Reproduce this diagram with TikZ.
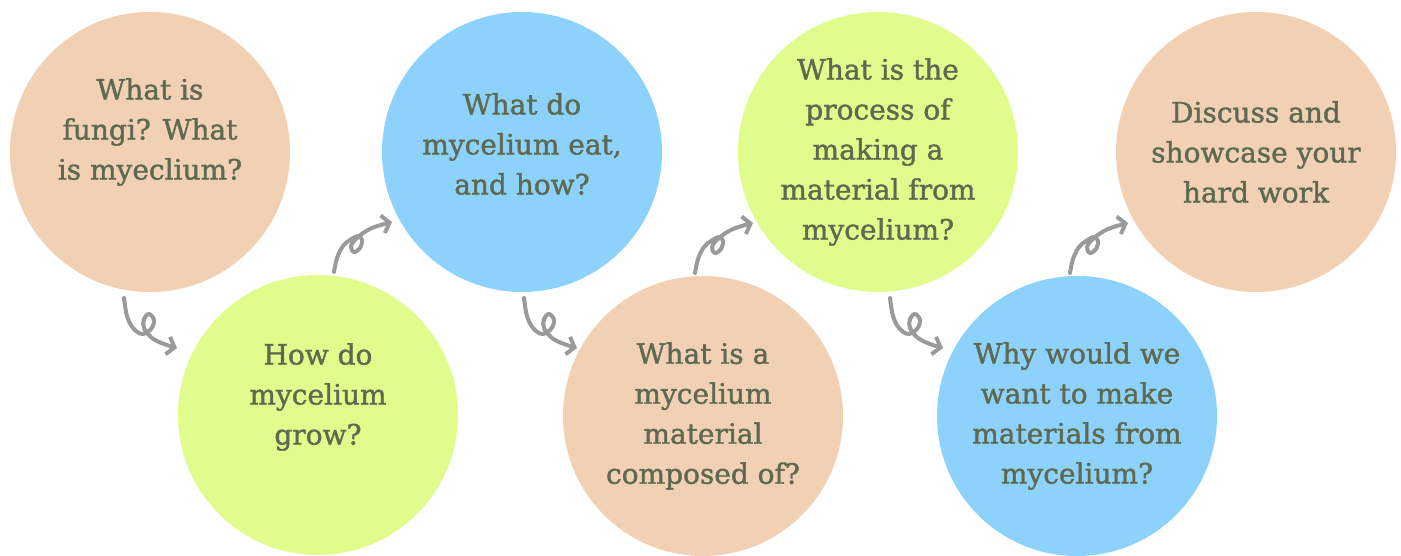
\documentclass[tikz,border=0pt]{standalone}
\usepackage{fontspec}
\setmainfont{DejaVu Serif}[FakeBold=1.4]
\usetikzlibrary{arrows.meta,positioning,calc}
\definecolor{peach}{HTML}{F2D0B4}
\definecolor{lime}{HTML}{E0FC8C}
\definecolor{sky}{HTML}{8DD2FC}
\definecolor{qgray}{HTML}{5E6A50}
\definecolor{arrowgray}{HTML}{9A9A9A}
\tikzset{
  bubble/.style={circle, minimum size=280pt, inner sep=0pt},
  qtext/.style={align=center, text=qgray, font=\fontsize{28}{40}\selectfont},
  loopy/.style={line width=4pt, draw=arrowgray, line cap=round, line join=round,
    -{Straight Barb[length=7pt,width=18pt]}},
}

\begin{document}
\begin{tikzpicture}[x=1pt, y=-1pt]
\useasboundingbox (0,0) rectangle (1401,556);

% Circulos
\foreach \n/\x/\y/\c in {1/150/152/peach, 2/318/415/lime, 3/522/152/sky,
  4/703/416/peach, 5/878/152/lime, 6/1077/416/sky, 7/1256/152/peach}{
  \node[bubble, fill=\c] (c\n) at (\x,\y) {};
}

% Preguntas
\node[qtext] (t1) at ([yshift=20pt]c1.center) {What is\\fungi? What\\is myeclium?};
\node[qtext] (t2) at ([yshift=18pt]c2.center) {How do\\mycelium\\grow?};
\node[qtext] (t3) at ([yshift=8pt]c3.center) {What do\\mycelium eat,\\and how?};
\node[qtext] (t4) at (c4.center) {What is a\\mycelium\\material\\composed of?};
\node[qtext] (t5) at (c5.center) {What is the\\process of\\making a\\material from\\mycelium?};
\node[qtext] (t6) at (c6.center) {Why would we\\want to make\\materials from\\mycelium?};
\node[qtext] (t7) at (c7.center) {Discuss and\\showcase your\\hard work};

% Flechas hacia abajo (con bucle)
\foreach \s/\dx in {1/-26, 3/2, 5/12}{
  \coordinate (d\s) at ([shift={(\dx,146)}]c\s.center);
  \begin{scope}[shift={(d\s)}]
    \draw[loopy] plot[smooth, tension=0.6] coordinates {
      (0,0) (3,18) (9,30) (18,36) (27,31) (30,22) (25,16) (20,21) (20,30) (28,40) (40,46) (53,50)};
  \end{scope}
}

% Flechas hacia arriba (con bucle)
\foreach \s/\dx in {2/16, 4/-8, 6/-7}{
  \coordinate (u\s) at ([shift={(\dx,-143)}]c\s.center);
  \begin{scope}[shift={(u\s)}]
    \draw[loopy] plot[smooth, tension=0.6] coordinates {
      (0,0) (3,-14) (9,-26) (16,-32) (24,-36) (28,-32) (26,-24) (20,-20) (17,-26) (24,-35) (38,-44) (58,-50)};
  \end{scope}
}

\end{tikzpicture}
\end{document}
